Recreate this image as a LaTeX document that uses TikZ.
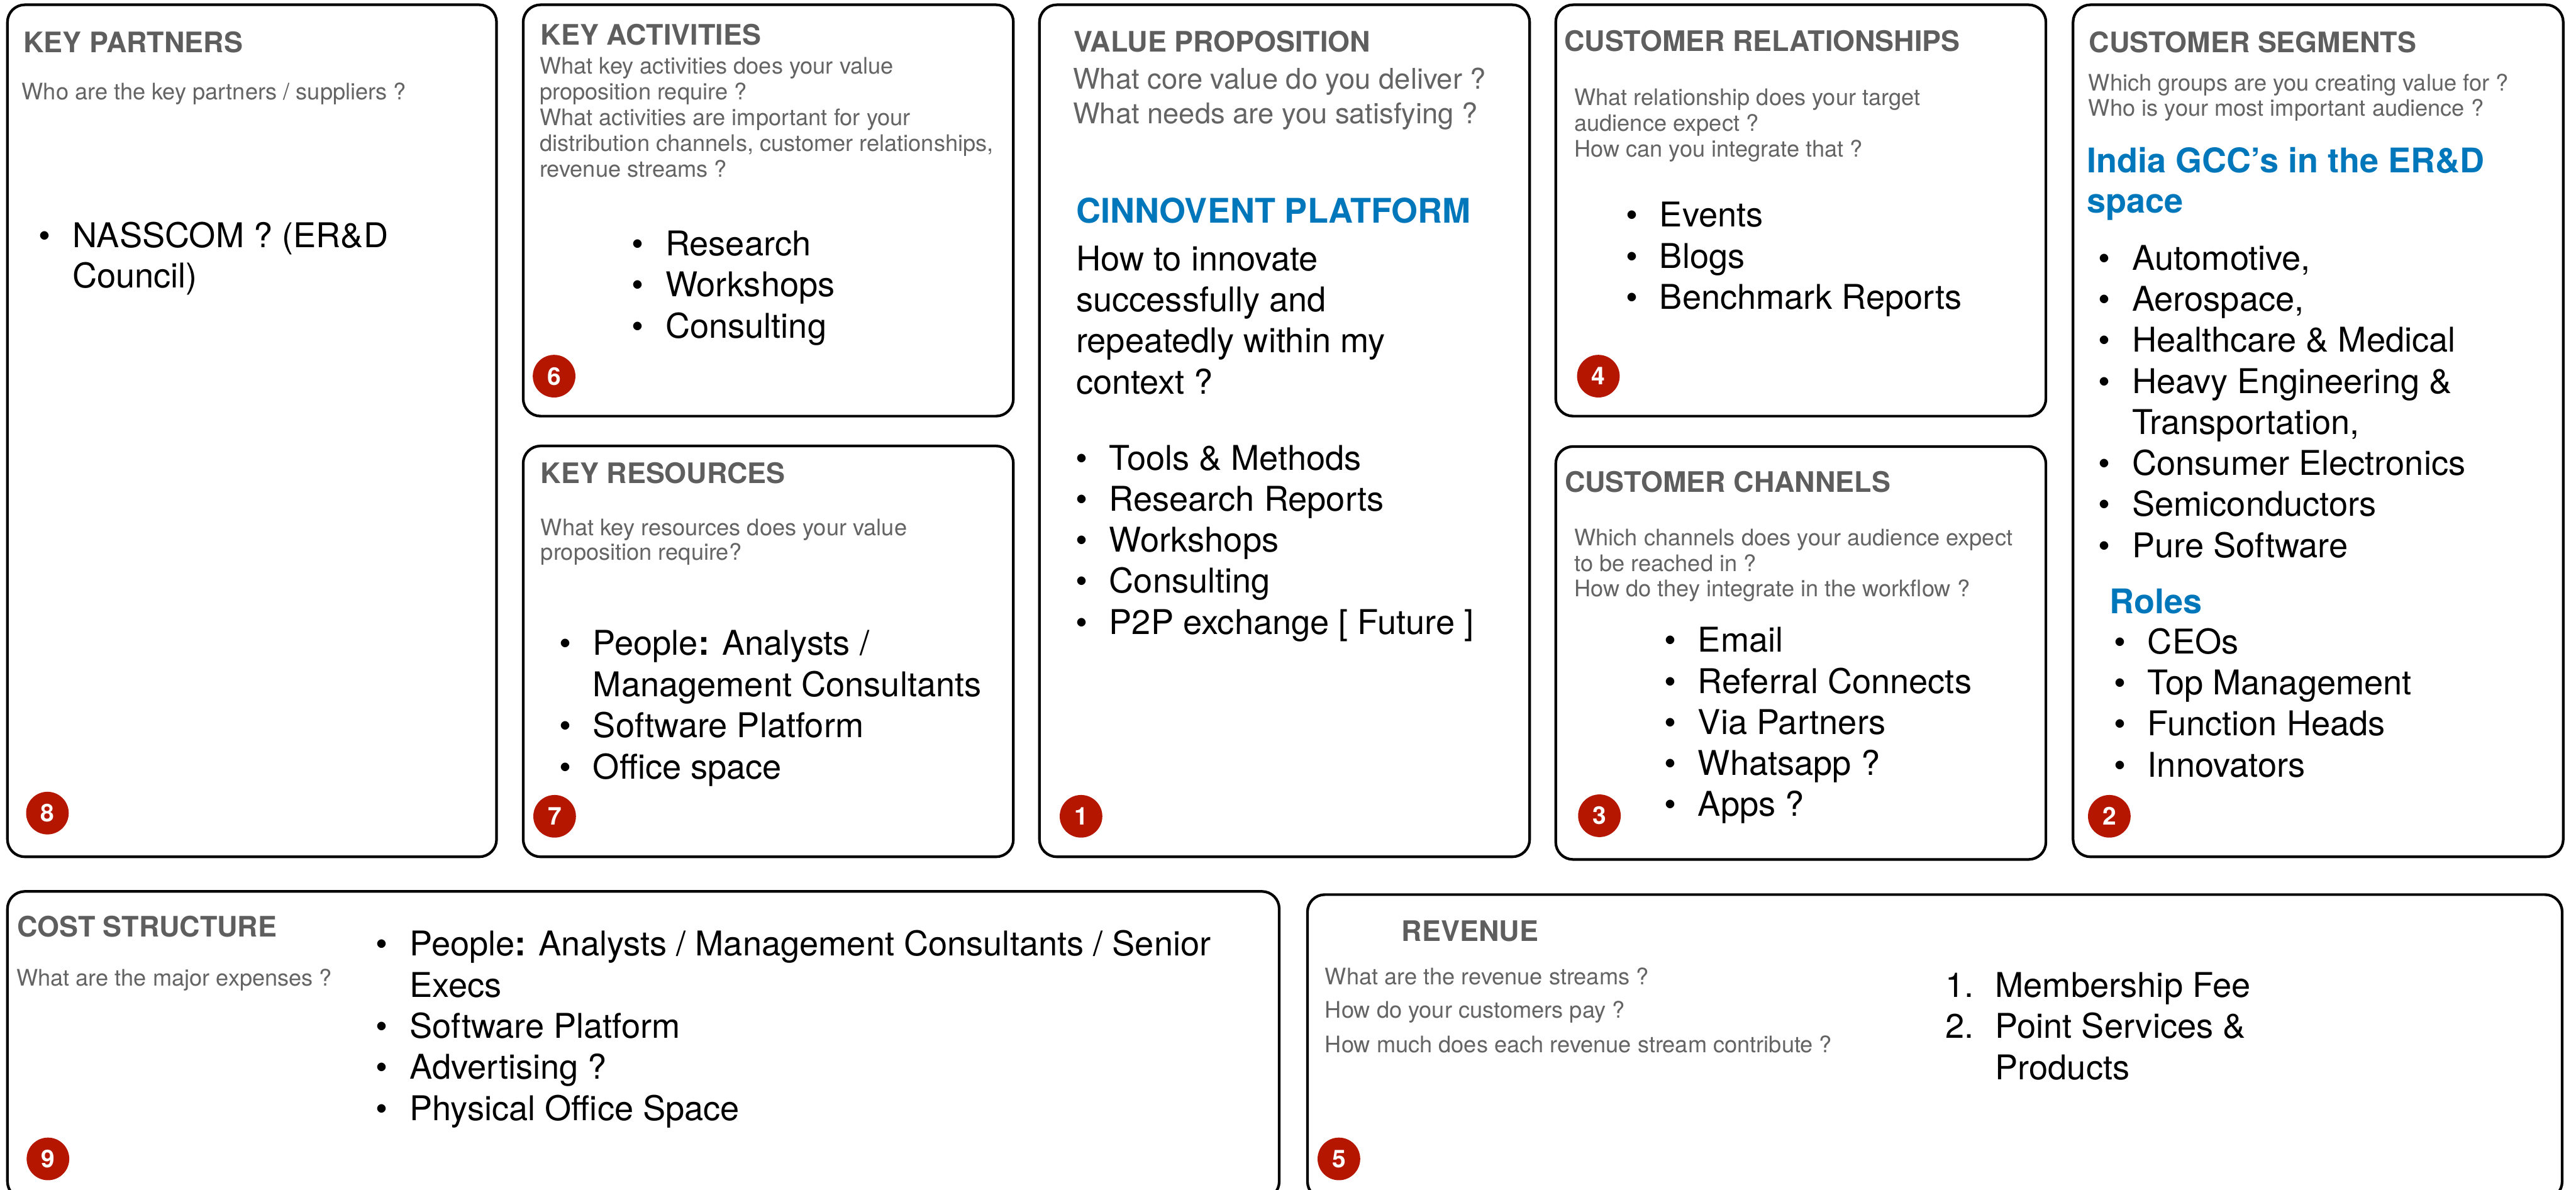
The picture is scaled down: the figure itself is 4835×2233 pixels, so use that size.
\documentclass[tikz,border=0pt]{standalone}
\usepackage{fontspec}
\setmainfont{TeX Gyre Heros}
\definecolor{headgray}{RGB}{94,94,94}
\definecolor{askgray}{RGB}{100,100,100}
\definecolor{badgered}{RGB}{181,22,0}
\definecolor{accentblue}{RGB}{0,118,187}

% bulleted line: name, x of text start, baseline y, text
\newcommand\cvbul[4]{\node[item] (#1) at (#2,#3) {\llap{\textbullet\hspace{8.2pt}}#4};}
% plain line of item text
\newcommand\cvline[4]{\node[item] (#1) at (#2,#3) {#4};}
% grey question line
\newcommand\cvask[4]{\node[ask] (#1) at (#2,#3) {#4};}

\begin{document}
\begin{tikzpicture}[x=0.2pt,y=-0.2pt,
  card/.style={draw=black,line width=1pt,rounded corners=6.5pt},
  head/.style={anchor=base west,inner sep=0pt,text=headgray,
    font=\fontsize{10.6}{12}\selectfont\bfseries},
  ask/.style={anchor=base west,inner sep=0pt,text=askgray,
    font=\fontsize{8.55}{10}\selectfont},
  bigask/.style={anchor=base west,inner sep=0pt,text=askgray,
    font=\fontsize{10.7}{12.5}\selectfont},
  item/.style={anchor=base west,inner sep=0pt,text=black,
    font=\fontsize{12.8}{15}\selectfont},
  accent/.style={anchor=base west,inner sep=0pt,text=accentblue,
    font=\fontsize{12.75}{15}\selectfont\bfseries},
  badge/.style={circle,fill=badgered,minimum size=16pt,inner sep=0pt,
    text=white,font=\fontsize{9.2}{10}\selectfont\bfseries}]

\useasboundingbox (0,0) rectangle (4835,2233);
\fill[white] (0,0) rectangle (4835,2233);
\clip (0,0) rectangle (4835,2233);

% ---- canvas cells ----
\draw[card] (14,9) rectangle (932,1608);      % key partners
\draw[card] (982,9) rectangle (1902,781);     % key activities
\draw[card] (982,837) rectangle (1902,1608);  % key resources
\draw[card] (1951,9) rectangle (2871,1608);   % value proposition
\draw[card] (2920,9) rectangle (3840,781);    % customer relationships
\draw[card] (2920,838) rectangle (3840,1613); % customer channels
\draw[card] (3891,9) rectangle (4811,1608);   % customer segments
\draw[card] (14,1673) rectangle (2401,2250);  % cost structure
\draw[card] (2454,1679) rectangle (4809,2250); % revenue

% ---- key partners ----
\node[head] (kpH) at (43,99) {KEY PARTNERS};
\cvask{kpQ}{40}{187}{Who are the key partners / suppliers ?}
\cvbul{kp1}{135}{464}{NASSCOM ? (ER\&D}
\cvline{kp1b}{135}{540}{Council)}
\node[badge] (b8) at (89,1526) {8};

% ---- key activities ----
\node[head] (kaH) at (1014,84) {KEY ACTIVITIES};
\cvask{kaQ1}{1012}{139}{What key activities does your value}
\cvask{kaQ2}{1012}{187}{proposition require ?}
\cvask{kaQ3}{1012}{236}{What activities are important for your}
\cvask{kaQ4}{1012}{284}{distribution channels, customer relationships,}
\cvask{kaQ5}{1012}{332}{revenue streams ?}
\cvbul{ka1}{1248}{480}{Research}
\cvbul{ka2}{1248}{557}{Workshops}
\cvbul{ka3}{1248}{634}{Consulting}
\node[badge] (b6) at (1040,706) {6};

% ---- key resources ----
\node[head] (krH) at (1014,907) {KEY RESOURCES};
\cvask{krQ1}{1014}{1005}{What key resources does your value}
\cvask{krQ2}{1014}{1051}{proposition require?}
\cvbul{kr1}{1112}{1230}{People\textbf{:} Analysts /}
\cvline{kr1b}{1112}{1307}{Management Consultants}
\cvbul{kr2}{1112}{1384}{Software Platform}
\cvbul{kr3}{1112}{1462}{Office space}
\node[badge] (b7) at (1041,1532) {7};

% ---- value proposition ----
\node[head] (vpH) at (2014,97) {VALUE PROPOSITION};
\node[bigask] (vpQ1) at (2013,167) {What core value do you deliver ?};
\node[bigask] (vpQ2) at (2013,232) {What needs are you satisfying ?};
\node[accent] (vpT) at (2019,418) {CINNOVENT PLATFORM};
\cvline{vpL1}{2019}{508}{How to innovate}
\cvline{vpL2}{2019}{585}{successfully and}
\cvline{vpL3}{2019}{662}{repeatedly within my}
\cvline{vpL4}{2019}{739}{context ?}
\cvbul{vp1}{2081}{882}{Tools \& Methods}
\cvbul{vp2}{2081}{959}{Research Reports}
\cvbul{vp3}{2081}{1036}{Workshops}
\cvbul{vp4}{2081}{1113}{Consulting}
\cvbul{vp5}{2081}{1190}{P2P exchange [ Future ]}
\node[badge] (b1) at (2029,1532) {1};

% ---- customer relationships ----
\node[head] (crH) at (2935,96) {CUSTOMER RELATIONSHIPS};
\cvask{crQ1}{2954}{198}{What relationship does your target}
\cvask{crQ2}{2954}{246}{audience expect ?}
\cvask{crQ3}{2954}{294}{How can you integrate that ?}
\cvbul{cr1}{3114}{426}{Events}
\cvbul{cr2}{3114}{503}{Blogs}
\cvbul{cr3}{3114}{580}{Benchmark Reports}
\node[badge] (b4) at (3000,706) {4};

% ---- customer channels ----
\node[head] (ccH) at (2936,924) {CUSTOMER CHANNELS};
\cvask{ccQ1}{2954}{1024}{Which channels does your audience expect}
\cvask{ccQ2}{2954}{1072}{to be reached in ?}
\cvask{ccQ3}{2954}{1120}{How do they integrate in the workflow ?}
\cvbul{cc1}{3186}{1224}{Email}
\cvbul{cc2}{3186}{1301}{Referral Connects}
\cvbul{cc3}{3186}{1378}{Via Partners}
\cvbul{cc4}{3186}{1455}{Whatsapp ?}
\cvbul{cc5}{3186}{1532}{Apps ?}
\node[badge] (b3) at (3002,1531) {3};

% ---- customer segments ----
\node[head] (csH) at (3920,98) {CUSTOMER SEGMENTS};
\cvask{csQ1}{3919}{171}{Which groups are you creating value for ?}
\cvask{csQ2}{3919}{218}{Who is your most important audience ?}
\node[accent] (csT1) at (3916,324) {India GCC’s in the ER\&D};
\node[accent] (csT2) at (3916,400) {space};
\cvbul{cs1}{4001}{507}{Automotive,}
\cvbul{cs2}{4001}{584}{Aerospace,}
\cvbul{cs3}{4001}{661}{Healthcare \& Medical}
\cvbul{cs4}{4001}{738}{Heavy Engineering \&}
\cvline{cs4b}{4001}{815}{Transportation,}
\cvbul{cs5}{4001}{892}{Consumer Electronics}
\cvbul{cs6}{4001}{969}{Semiconductors}
\cvbul{cs7}{4001}{1046}{Pure Software}
\node[accent] (csR) at (3959,1152) {Roles};
\cvbul{ro1}{4030}{1227}{CEOs}
\cvbul{ro2}{4030}{1304}{Top Management}
\cvbul{ro3}{4030}{1381}{Function Heads}
\cvbul{ro4}{4030}{1458}{Innovators}
\node[badge] (b2) at (3959,1532) {2};

% ---- cost structure ----
\node[head] (coH) at (31,1758) {COST STRUCTURE};
\cvask{coQ}{30}{1850}{What are the major expenses ?}
\cvbul{co1}{768}{1794}{People\textbf{:} Analysts / Management Consultants / Senior}
\cvline{co1b}{768}{1871}{Execs}
\cvbul{co2}{768}{1948}{Software Platform}
\cvbul{co3}{768}{2025}{Advertising ?}
\cvbul{co4}{768}{2103}{Physical Office Space}
\node[badge] (b9) at (90,2175) {9};

% ---- revenue ----
\node[head] (rvH) at (2630,1766) {REVENUE};
\cvask{rvQ1}{2486}{1848}{What are the revenue streams ?}
\cvask{rvQ2}{2486}{1911}{How do your customers pay ?}
\cvask{rvQ3}{2486}{1975}{How much does each revenue stream contribute ?}
\node[item,anchor=base east] (rvN1) at (3706,1871) {1.};
\cvline{rv1}{3744}{1871}{Membership Fee}
\node[item,anchor=base east] (rvN2) at (3706,1948) {2.};
\cvline{rv2}{3744}{1948}{Point Services \&}
\cvline{rv2b}{3744}{2026}{Products}
\node[badge] (b5) at (2513,2175) {5};

\end{tikzpicture}
\end{document}
